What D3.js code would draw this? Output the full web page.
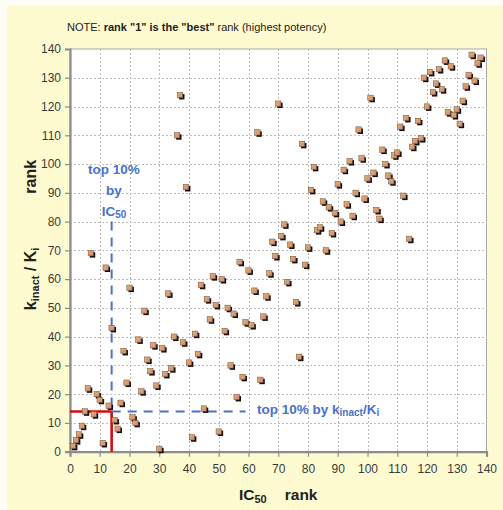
<!DOCTYPE html>
<html>
<head>
<meta charset="utf-8">
<script src="https://cdn.jsdelivr.net/npm/d3@7"></script>
<style>
  html, body { margin: 0; padding: 0; background: #ffffff; }
  svg { display: block; }
  text { font-family: "Liberation Sans", Arial, sans-serif; }
</style>
</head>
<body>
<svg id="chart" width="503" height="510"></svg>
<script>
// IC50 rank of each compound (x) and its kinact/Ki rank (y)
const ic50Rank = [
  1, 2, 3, 4, 5, 6, 7, 8, 9, 10, 11, 12, 13, 14, 15, 16, 17, 18, 19, 20,
  21, 22, 23, 24, 25, 26, 27, 28, 29, 30, 31, 32, 33, 34, 35, 36, 37, 38, 39, 40,
  41, 42, 43, 44, 45, 46, 47, 48, 49, 50, 51, 52, 53, 54, 55, 56, 57, 58, 59, 60,
  61, 62, 63, 64, 65, 66, 67, 68, 69, 70, 71, 72, 73, 74, 75, 76, 77, 78, 79, 80,
  81, 82, 83, 84, 85, 86, 87, 88, 89, 90, 91, 92, 93, 94, 95, 96, 97, 98, 99, 100,
  101, 102, 103, 104, 105, 106, 107, 108, 109, 110, 111, 112, 113, 114, 115, 116, 117, 118, 119, 120,
  121, 122, 123, 124, 125, 126, 127, 128, 129, 130, 131, 132, 133, 134, 135, 136, 137, 138
];
const kinactKiRank = [
  2, 4, 6, 9, 14, 22, 69, 13, 20, 18, 3, 64, 16, 43, 11, 8, 17, 35, 24, 57,
  12, 10, 39, 21, 49, 32, 28, 37, 23, 1, 36, 27, 55, 29, 40, 110, 124, 38, 92, 31,
  5, 41, 34, 58, 15, 53, 46, 61, 51, 7, 60, 42, 50, 30, 48, 19, 66, 26, 45, 63,
  44, 56, 111, 25, 47, 54, 62, 73, 68, 121, 75, 79, 59, 72, 67, 52, 33, 107, 65, 71,
  91, 99, 77, 78, 87, 70, 85, 76, 83, 93, 80, 98, 86, 101, 82, 90, 112, 102, 88, 95,
  123, 97, 84, 81, 105, 100, 96, 94, 103, 104, 113, 89, 116, 74, 106, 108, 115, 109, 130, 120,
  132, 125, 128, 133, 126, 136, 118, 134, 117, 119, 114, 122, 127, 131, 138, 129, 135, 137
];
const axisTicks = [0, 10, 20, 30, 40, 50, 60, 70, 80, 90, 100, 110, 120, 130, 140];
// top-10% cut-off (rank 14 of 138) and reach of the guide lines
const cutoffRank = 14;
const ic50GuideTop = 80;
const kinactGuideEnd = 59;

const points = ic50Rank.map((x, i) => ({ x, y: kinactKiRank[i] }));

const svg = d3.select("#chart");
const W = 503, H = 510;
const plotL = 70, plotR = 486.5, plotT = 49, plotB = 451.7;

// page background
svg.append("rect").attr("width", W).attr("height", H).attr("fill", "#fdfdf5");
svg.append("rect").attr("x", 7).attr("y", 5).attr("width", W - 7).attr("height", H - 5)
  .attr("fill", "#fffbd0");

const x = d3.scaleLinear().domain([0, 140]).range([plotL, plotR]);
const y = d3.scaleLinear().domain([0, 140]).range([plotB, plotT]);

// plot area
svg.append("rect").attr("x", plotL).attr("y", plotT)
  .attr("width", plotR - plotL).attr("height", plotB - plotT)
  .attr("fill", "#ffffff").attr("stroke", "#a8a8a8").attr("stroke-width", 1);

// dotted grid
const grid = svg.append("g").attr("stroke", "#bdbdbd").attr("stroke-width", 1)
  .attr("stroke-dasharray", "2,2");
grid.selectAll("line.v").data(axisTicks.slice(1, -1)).join("line")
  .attr("class", "v")
  .attr("x1", d => Math.round(x(d)) + 0.5).attr("x2", d => Math.round(x(d)) + 0.5)
  .attr("y1", plotT).attr("y2", plotB);
grid.selectAll("line.h").data(axisTicks.slice(1, -1)).join("line")
  .attr("class", "h")
  .attr("y1", d => Math.round(y(d)) + 0.5).attr("y2", d => Math.round(y(d)) + 0.5)
  .attr("x1", plotL).attr("x2", plotR);

// axes
const xAxis = svg.append("g").attr("transform", `translate(0,${plotB})`)
  .call(d3.axisBottom(x).tickValues(axisTicks).tickSize(5).tickPadding(8).tickFormat(d3.format("d")));
const yAxis = svg.append("g").attr("transform", `translate(${plotL},0)`)
  .call(d3.axisLeft(y).tickValues(axisTicks).tickSize(5).tickPadding(4).tickFormat(d3.format("d")));
[xAxis, yAxis].forEach(g => {
  g.select(".domain").attr("stroke", "#8c8c8c").attr("stroke-width", 2.2);
  g.selectAll(".tick line").attr("stroke", "#8c8c8c").attr("stroke-width", 1.2);
  g.selectAll(".tick text").attr("fill", "#3a3a3a").attr("font-size", 12)
    .attr("font-family", "'Liberation Sans', Arial, sans-serif");
});

// red box marking the top-10% corner
const red = svg.append("g").attr("stroke", "#d60c0c").attr("stroke-width", 2.6).attr("fill", "none");
red.append("line").attr("x1", x(0)).attr("x2", x(cutoffRank))
  .attr("y1", y(cutoffRank)).attr("y2", y(cutoffRank));
red.append("line").attr("x1", x(cutoffRank)).attr("x2", x(cutoffRank))
  .attr("y1", y(0)).attr("y2", y(cutoffRank));

// blue dashed guides
const blue = "#4a70cc";
const guides = svg.append("g").attr("stroke", blue).attr("stroke-width", 2)
  .attr("stroke-dasharray", "9,7").attr("fill", "none");
guides.append("line").attr("x1", x(cutoffRank)).attr("x2", x(cutoffRank))
  .attr("y1", y(ic50GuideTop)).attr("y2", y(cutoffRank));
guides.append("line").attr("x1", x(cutoffRank)).attr("x2", x(kinactGuideEnd))
  .attr("y1", y(cutoffRank)).attr("y2", y(cutoffRank));

// marker gradient
const defs = svg.append("defs");
const grad = defs.append("linearGradient").attr("id", "mk")
  .attr("x1", "0").attr("y1", "0").attr("x2", "1").attr("y2", "1");
grad.append("stop").attr("offset", "0%").attr("stop-color", "#f2ad52");
grad.append("stop").attr("offset", "100%").attr("stop-color", "#b98e96");

// markers: dark offset shadow, then gradient square
const mk = 5.4;
const marks = svg.append("g");
marks.selectAll("rect.sh").data(points).join("rect")
  .attr("class", "sh")
  .attr("x", d => x(d.x) - mk / 2 + 1.7).attr("y", d => y(d.y) - mk / 2 + 1.7)
  .attr("width", mk).attr("height", mk).attr("fill", "#1a0f08");
marks.selectAll("rect.fg").data(points).join("rect")
  .attr("class", "fg")
  .attr("x", d => x(d.x) - mk / 2).attr("y", d => y(d.y) - mk / 2)
  .attr("width", mk).attr("height", mk).attr("fill", "url(#mk)")
  .attr("stroke", "#6a4a3a").attr("stroke-width", 0.5);

// note above the plot
const note = svg.append("text").attr("x", 67).attr("y", 31)
  .attr("font-size", 11).attr("fill", "#222");
note.append("tspan").text("NOTE: ");
note.append("tspan").attr("font-weight", "bold").text("rank \"1\" is the \"best\"");
note.append("tspan").text(" rank (highest potency)");

// blue annotations
const ann = svg.append("g").attr("fill", blue).attr("font-weight", "bold").attr("font-size", 13.5);
ann.append("text").attr("x", 114).attr("y", 174).attr("text-anchor", "middle").text("top 10%");
ann.append("text").attr("x", 114).attr("y", 195).attr("text-anchor", "middle").text("by");
const icTxt = ann.append("text").attr("x", 114).attr("y", 216).attr("text-anchor", "middle");
icTxt.append("tspan").text("IC");
icTxt.append("tspan").attr("font-size", 10).attr("dy", 2).text("50");

const kTxt = ann.append("text").attr("x", 257).attr("y", 414);
kTxt.append("tspan").text("top 10% by k");
kTxt.append("tspan").attr("font-size", 10).attr("dy", 2).text("inact");
kTxt.append("tspan").attr("dy", -2).text("/K");
kTxt.append("tspan").attr("font-size", 10).attr("dy", 2).text("i");

// axis titles
const xt = svg.append("text").attr("x", (plotL + plotR) / 2).attr("y", 500)
  .attr("text-anchor", "middle").attr("font-weight", "bold").attr("font-size", 15.5).attr("fill", "#222");
xt.append("tspan").text("IC");
xt.append("tspan").attr("font-size", 11).attr("dy", 3).text("50");
xt.append("tspan").attr("dy", -3).attr("dx", 18).text("rank");

const yt = svg.append("text").attr("transform", "translate(36,235) rotate(-90)")
  .attr("text-anchor", "middle").attr("font-weight", "bold").attr("font-size", 16).attr("fill", "#222");
yt.append("tspan").text("k");
yt.append("tspan").attr("font-size", 11).attr("dy", 3).text("inact");
yt.append("tspan").attr("dy", -3).text(" / K");
yt.append("tspan").attr("font-size", 11).attr("dy", 3).text("i");
yt.append("tspan").attr("dy", -3).attr("dx", 54).text("rank");
</script>
</body>
</html>
